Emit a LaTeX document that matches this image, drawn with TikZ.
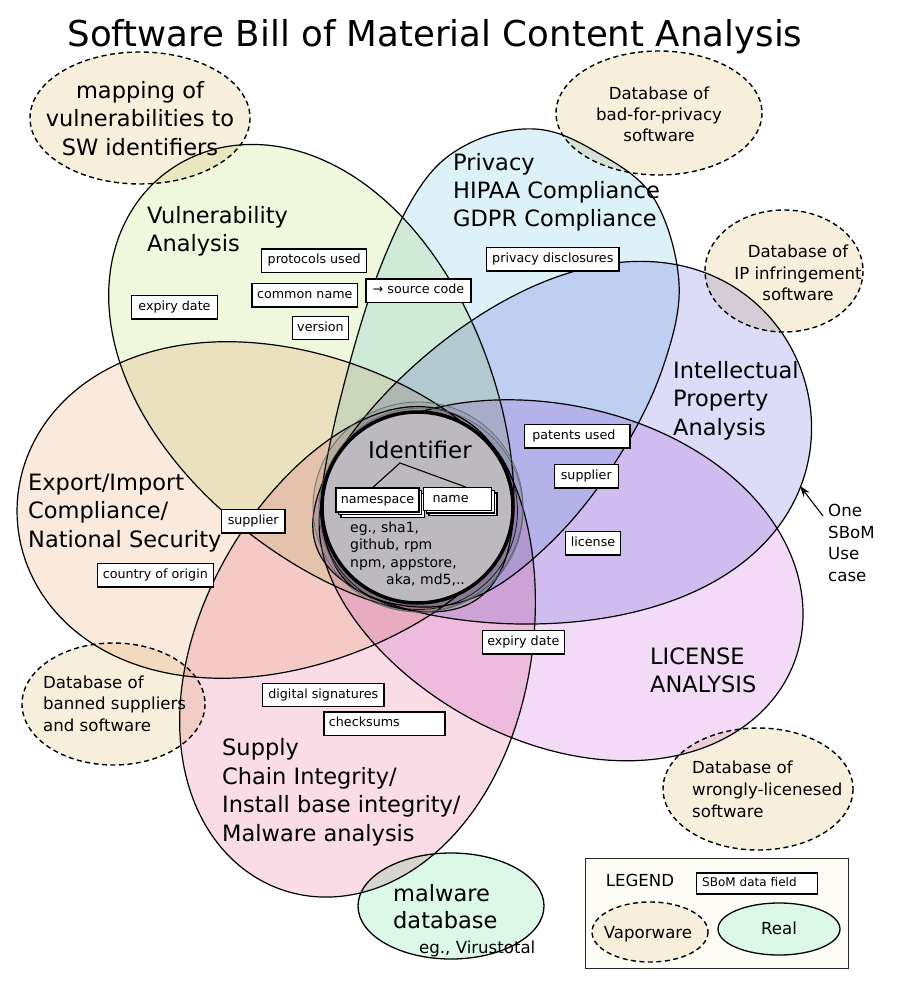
\documentclass[tikz,border=0pt]{standalone}
\usepackage{fontspec}
\setmainfont{DejaVu Sans}
\usetikzlibrary{arrows.meta,shadows,calc}
\definecolor{cvul}{HTML}{EFF8DD}
\definecolor{cpriv}{HTML}{DDF1F8}
\definecolor{cip}{HTML}{DCDCF8}
\definecolor{clic}{HTML}{F3DBF7}
\definecolor{csup}{HTML}{F9DCE5}
\definecolor{cexp}{HTML}{FAE9DD}
\definecolor{cvapor}{HTML}{F8EEDC}
\definecolor{creal}{HTML}{DCF8E6}
\definecolor{ccenter}{HTML}{BCB9BF}
\definecolor{cring}{HTML}{4A6660}
\definecolor{clegend}{HTML}{FDFCF5}
\begin{document}
\begin{tikzpicture}[x=1pt,y=-1pt,
  petal/.style={draw=black, line width=1.2pt},
  vapor/.style={draw=black, line width=1.4pt, dash pattern=on 5pt off 3.5pt, fill=cvapor},
  realdb/.style={draw=black, line width=1.3pt, fill=creal},
  ringc/.style={draw=cring, draw opacity=0.8, line width=0.8pt, fill=black, fill opacity=0.06},
  field/.style={draw=black, line width=1.3pt, fill=white, font=\fontsize{12.7}{15}\selectfont,
    text height=9pt, text depth=2.8pt, inner xsep=5pt, inner ysep=0pt, minimum height=23.5pt},
  ttl/.style={font=\fontsize{35.6}{40}\selectfont, inner sep=0pt, text height=26pt, text depth=0pt},
  tbig/.style={font=\fontsize{22.5}{27}\selectfont, inner sep=0pt, text height=16.4pt, text depth=0pt},
  tid/.style={font=\fontsize{23}{27}\selectfont, inner sep=0pt, text height=16.8pt, text depth=0pt},
  tmid/.style={font=\fontsize{16.6}{20}\selectfont, inner sep=0pt, text height=12.1pt, text depth=0pt},
  tsmall/.style={font=\fontsize{14}{17}\selectfont, inner sep=0pt, text height=10.2pt, text depth=0pt},
  stack/.style={double copy shadow={shadow xshift=2.6pt, shadow yshift=-2.6pt}}
]
\useasboundingbox[fill=white] (0,0) rectangle (900,984);

% egg-shaped petal: \eggpetal{colour}{cx}{cy}{angle}{outer length}{inner length}{half width}{k}
\newcommand\eggpetal[8]{%
  \draw[petal, fill=#1, shift={(#2,#3)}, rotate=-#4]
    plot[domain=0:360, samples=150, smooth, variable=\t]
    ({(#6+#5)/2*cos(\t)+(#6-#5)/2*cos(\t)*cos(\t)}, {#7*sin(\t)*(1-#8*cos(\t))}) -- cycle;}

\begin{scope}[blend group=multiply]
\eggpetal{cvul}{331.5}{396}{54}{278}{250}{161}{0.24}    % Vulnerability
% Privacy
\draw[petal, fill=cpriv] plot[smooth cycle, tension=0.6] coordinates {(470,143) (535,129) (593,150) (653,197) (679,283) (663,367) (623,450) (563,530) (490,590) (420,607) (350,585) (322,520) (333,430) (373,287) (420,187)};
\eggpetal{cip}{559}{459}{160}{258}{258}{167}{0.25}      % Intellectual property
\eggpetal{clic}{560}{575}{200}{250}{250}{169}{0.08}     % License
\eggpetal{csup}{367}{643}{-71}{261}{245}{166}{0.14}     % Supply chain
\eggpetal{cexp}{281}{509}{-1}{264}{232}{163.5}{0.25}    % Export / Import
% vaporware databases
\draw[vapor] (140,118) ellipse (110 and 66);
\draw[vapor] (659,113) ellipse (103 and 62);
\draw[vapor] (784,271) ellipse (79 and 61);
\draw[vapor] (113.5,704) ellipse (91.5 and 61);
\draw[vapor] (758,789) ellipse (95 and 61);
% real database
\draw[realdb] (451,906) ellipse (93 and 53);
\end{scope}

% centre identifier circles
\draw[ringc] (418,507) circle (105);
\draw[ringc] (421,510) circle (102);
\draw[ringc, draw=black] (419,511) circle (98.5);
\draw[line width=3.5pt, fill=ccenter] (417.5,507.5) circle (95.5);

% title
\node[ttl] (title) at (435,34) {Software Bill of Material Content Analysis};

% petal labels
\node[tbig, anchor=west] (vul1) at (147,215) {Vulnerability};
\node[tbig, anchor=west] (vul2) at (147,243) {Analysis};
\node[tbig, anchor=west] (prv1) at (453,162) {Privacy};
\node[tbig, anchor=west] (prv2) at (453,190) {HIPAA Compliance};
\node[tbig, anchor=west] (prv3) at (453,218) {GDPR Compliance};
\node[tbig, anchor=west] (ip1) at (673,370) {Intellectual};
\node[tbig, anchor=west] (ip2) at (673,398) {Property};
\node[tbig, anchor=west] (ip3) at (673,427) {Analysis};
\node[tbig, anchor=west] (lic1) at (650,656) {LICENSE};
\node[tbig, anchor=west] (lic2) at (650,684) {ANALYSIS};
\node[tbig, anchor=west] (exp1) at (28,482) {Export/Import};
\node[tbig, anchor=west] (exp2) at (28,510) {Compliance/};
\node[tbig, anchor=west] (exp3) at (28,539) {National Security};
\node[tbig, anchor=west] (sup1) at (222,747) {Supply};
\node[tbig, anchor=west] (sup2) at (222,776) {Chain Integrity/};
\node[tbig, anchor=west] (sup3) at (222,804) {Install base integrity/};
\node[tbig, anchor=west] (sup4) at (222,833) {Malware analysis};

% database texts
\node[tbig] (map1) at (140,90) {mapping of};
\node[tbig] (map2) at (140,118) {vulnerabilities to};
\node[tbig] (map3) at (140,147) {SW identifiers};
\node[tmid] (bfp1) at (659,93) {Database of};
\node[tmid] (bfp2) at (659,114) {bad-for-privacy};
\node[tmid] (bfp3) at (659,135) {software};
\node[tmid] (ipi1) at (798,251) {Database of};
\node[tmid] (ipi2) at (798,273) {IP infringement};
\node[tmid] (ipi3) at (798,294) {software};
\node[tmid, anchor=west] (ban1) at (43,682) {Database of};
\node[tmid, anchor=west] (ban2) at (43,703) {banned suppliers};
\node[tmid, anchor=west] (ban3) at (43,725) {and software};
\node[tmid, anchor=west] (wrl1) at (692,767) {Database of};
\node[tmid, anchor=west] (wrl2) at (692,789) {wrongly-licenesed};
\node[tmid, anchor=west] (wrl3) at (692,811) {software};
\node[tbig, anchor=west] (mal1) at (393,893) {malware};
\node[tbig, anchor=west] (mal2) at (393,920) {database};
\node[tmid, anchor=west] (mal3) at (419,947) {eg., Virustotal};

% use case pointer
\node[tmid, anchor=west] (use1) at (828,510) {One};
\node[tmid, anchor=west] (use2) at (828,532) {SBoM};
\node[tmid, anchor=west] (use3) at (828,553) {Use};
\node[tmid, anchor=west] (use4) at (828,575) {case};
\coordinate (usetail) at (823,516);
\coordinate (usehead) at (800,486);
\draw[line width=1.1pt, -{Stealth[length=11pt, width=7.5pt]}] (usetail) -- (usehead);

% identifier
\node[tid] (ident) at (420,450) {Identifier};
\node[field, stack, minimum width=83pt, minimum height=24pt] (namespace) at (377.5,500) {namespace};
\node[field, stack, anchor=west, text width=50pt, align=left, inner xsep=9pt, minimum height=22.5pt] (name) at (423,499) {name};
\coordinate (idapex) at (400,463);
\draw[line width=1.1pt] ($(namespace.north west)!0.446!(namespace.north east)$) -- (idapex) -- ($(name.north west)!0.62!(name.north east)$);
\node[tsmall, anchor=west] (eg1) at (350,527) {eg., sha1,};
\node[tsmall, anchor=west] (eg2) at (350,544) {github, rpm};
\node[tsmall, anchor=west] (eg3) at (350,562) {npm, appstore,};
\node[tsmall, anchor=west] (eg4) at (386,579) {aka, md5,..};

% SBoM data fields
\node[field, minimum width=105pt] (proto) at (314.2,260.7) {protocols used};
\node[field, minimum width=105pt] (cname) at (304.8,295.3) {common name};
\node[field, minimum width=85.6pt] (expiry1) at (174.5,307.2) {expiry date};
\node[field, minimum width=55.6pt] (version) at (320.5,328) {version};
\node[field, minimum width=105pt] (srccode) at (418.5,290.8) {→ source code};
\node[field, minimum width=132.3pt] (privdisc) at (552.8,259.2) {privacy disclosures};
\node[field, anchor=west, text width=89.9pt, align=left, inner xsep=7.7pt] (patents) at (524,436.2) {patents used};
\node[field, minimum width=64pt] (supplier2) at (586.3,476.2) {supplier};
\node[field, minimum width=55.4pt] (license) at (593,543.2) {license};
\node[field, minimum width=63.7pt] (supplier1) at (253.2,521.3) {supplier};
\node[field, minimum width=116pt] (country) at (155.3,575.3) {country of origin};
\node[field, minimum width=81.3pt] (expiry2) at (523.3,642.2) {expiry date};
\node[field, minimum width=121.3pt] (digsig) at (323.3,695) {digital signatures};
\node[field, anchor=west, text width=111pt, align=left, inner xsep=5pt] (checksums) at (323.3,723.7) {checksums};

% legend
\draw[draw=black!85, line width=0.9pt, fill=clegend] (585,858) rectangle (848,968);
\node[tmid] (legtitle) at (640,880) {LEGEND};
\node[field, anchor=west, text width=110pt, align=left, inner xsep=5.5pt, minimum height=21pt, font=\fontsize{12}{14}\selectfont] (legfield) at (696,883.5) {SBoM data field};
\draw[vapor] (650,932) ellipse (58 and 30);
\node[tmid] (legvapor) at (648,932) {Vaporware};
\draw[realdb] (779,929) ellipse (61 and 26);
\node[tmid] (legreal) at (779,928) {Real};
\end{tikzpicture}
\end{document}
